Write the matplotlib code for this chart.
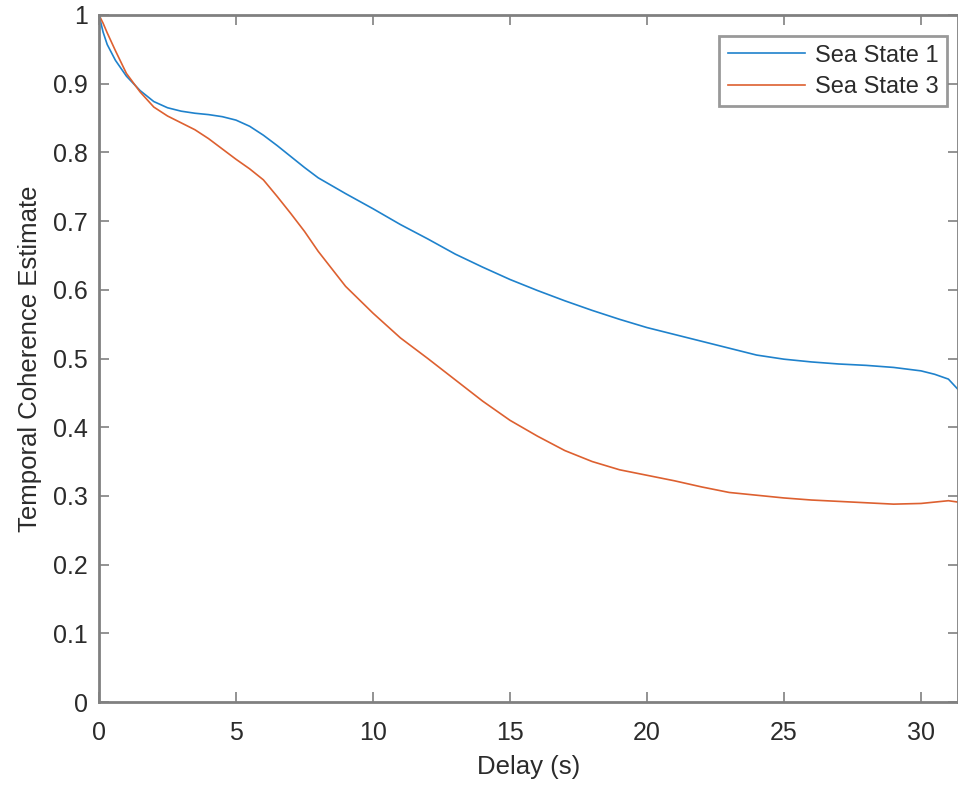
import matplotlib
matplotlib.use("Agg")
import matplotlib.pyplot as plt

# delay (s)
delay = [0, 0.15, 0.3, 0.6, 1, 1.5, 2, 2.5, 3, 3.5, 4, 4.5, 5, 5.5, 6, 6.5, 7, 7.5,
         8, 9, 10, 11, 12, 13, 14, 15, 16, 17, 18, 19, 20, 21, 22, 23, 24, 25, 26,
         27, 28, 29, 30, 30.5, 31, 31.35]

sea_state_1 = [1.0, 0.975, 0.957, 0.934, 0.911, 0.89, 0.874, 0.865, 0.86, 0.857,
               0.855, 0.852, 0.847, 0.838, 0.825, 0.81, 0.794, 0.778, 0.763, 0.74,
               0.718, 0.695, 0.674, 0.652, 0.633, 0.615, 0.599, 0.584, 0.57, 0.557,
               0.545, 0.535, 0.525, 0.515, 0.505, 0.499, 0.495, 0.492, 0.49, 0.487,
               0.482, 0.477, 0.47, 0.455]

sea_state_3 = [1.0, 0.988, 0.974, 0.948, 0.915, 0.888, 0.866, 0.853, 0.843, 0.833,
               0.82, 0.805, 0.79, 0.776, 0.76, 0.736, 0.711, 0.685, 0.656, 0.605,
               0.566, 0.53, 0.5, 0.469, 0.438, 0.41, 0.387, 0.366, 0.35, 0.338,
               0.33, 0.322, 0.313, 0.305, 0.301, 0.297, 0.294, 0.292, 0.29, 0.288,
               0.289, 0.291, 0.293, 0.291]

x_ticks = [0, 5, 10, 15, 20, 25, 30]
y_ticks = [0, 0.1, 0.2, 0.3, 0.4, 0.5, 0.6, 0.7, 0.8, 0.9, 1]
y_tick_labels = ["0", "0.1", "0.2", "0.3", "0.4", "0.5", "0.6", "0.7", "0.8", "0.9", "1"]

plt.rcParams["font.family"] = ["Liberation Sans", "DejaVu Sans"]

AXIS_GRAY = "#808080"
TEXT = "#2b2b2b"

fig = plt.figure(figsize=(9.58, 7.89), dpi=100)
ax = fig.add_axes([99 / 958, 87 / 789, 859 / 958, 687 / 789])

ax.plot(delay, sea_state_1, color="#1f82cc", lw=1.2, label="Sea State 1")
ax.plot(delay, sea_state_3, color="#dd6030", lw=1.2, label="Sea State 3")

ax.set_xlim(0, 31.35)
ax.set_ylim(0, 1)
ax.set_xticks(x_ticks)
ax.set_yticks(y_ticks)
ax.set_yticklabels(y_tick_labels)

for s in ax.spines.values():
    s.set_color(AXIS_GRAY)
    s.set_linewidth(2.0)
ax.tick_params(direction="in", length=7, width=1.2, color=AXIS_GRAY,
               labelsize=18, labelcolor=TEXT, top=True, right=True)
ax.tick_params(axis="y", pad=8)
ax.tick_params(axis="x", pad=14)

ax.set_xlabel("Delay (s)", fontsize=18.5, color=TEXT, labelpad=7)
ax.set_ylabel("Temporal Coherence Estimate", fontsize=18.5, color=TEXT, labelpad=8)

leg = ax.legend(loc="upper right", bbox_to_anchor=(0.987, 0.969), fontsize=17,
                frameon=True, fancybox=False, handlelength=3.3, borderpad=0.35,
                labelspacing=0.4, borderaxespad=0, handletextpad=0.4)
leg.get_frame().set_edgecolor(AXIS_GRAY)
leg.get_frame().set_linewidth(2.0)
for t in leg.get_texts():
    t.set_color(TEXT)

fig.savefig("out.png", dpi=100)
